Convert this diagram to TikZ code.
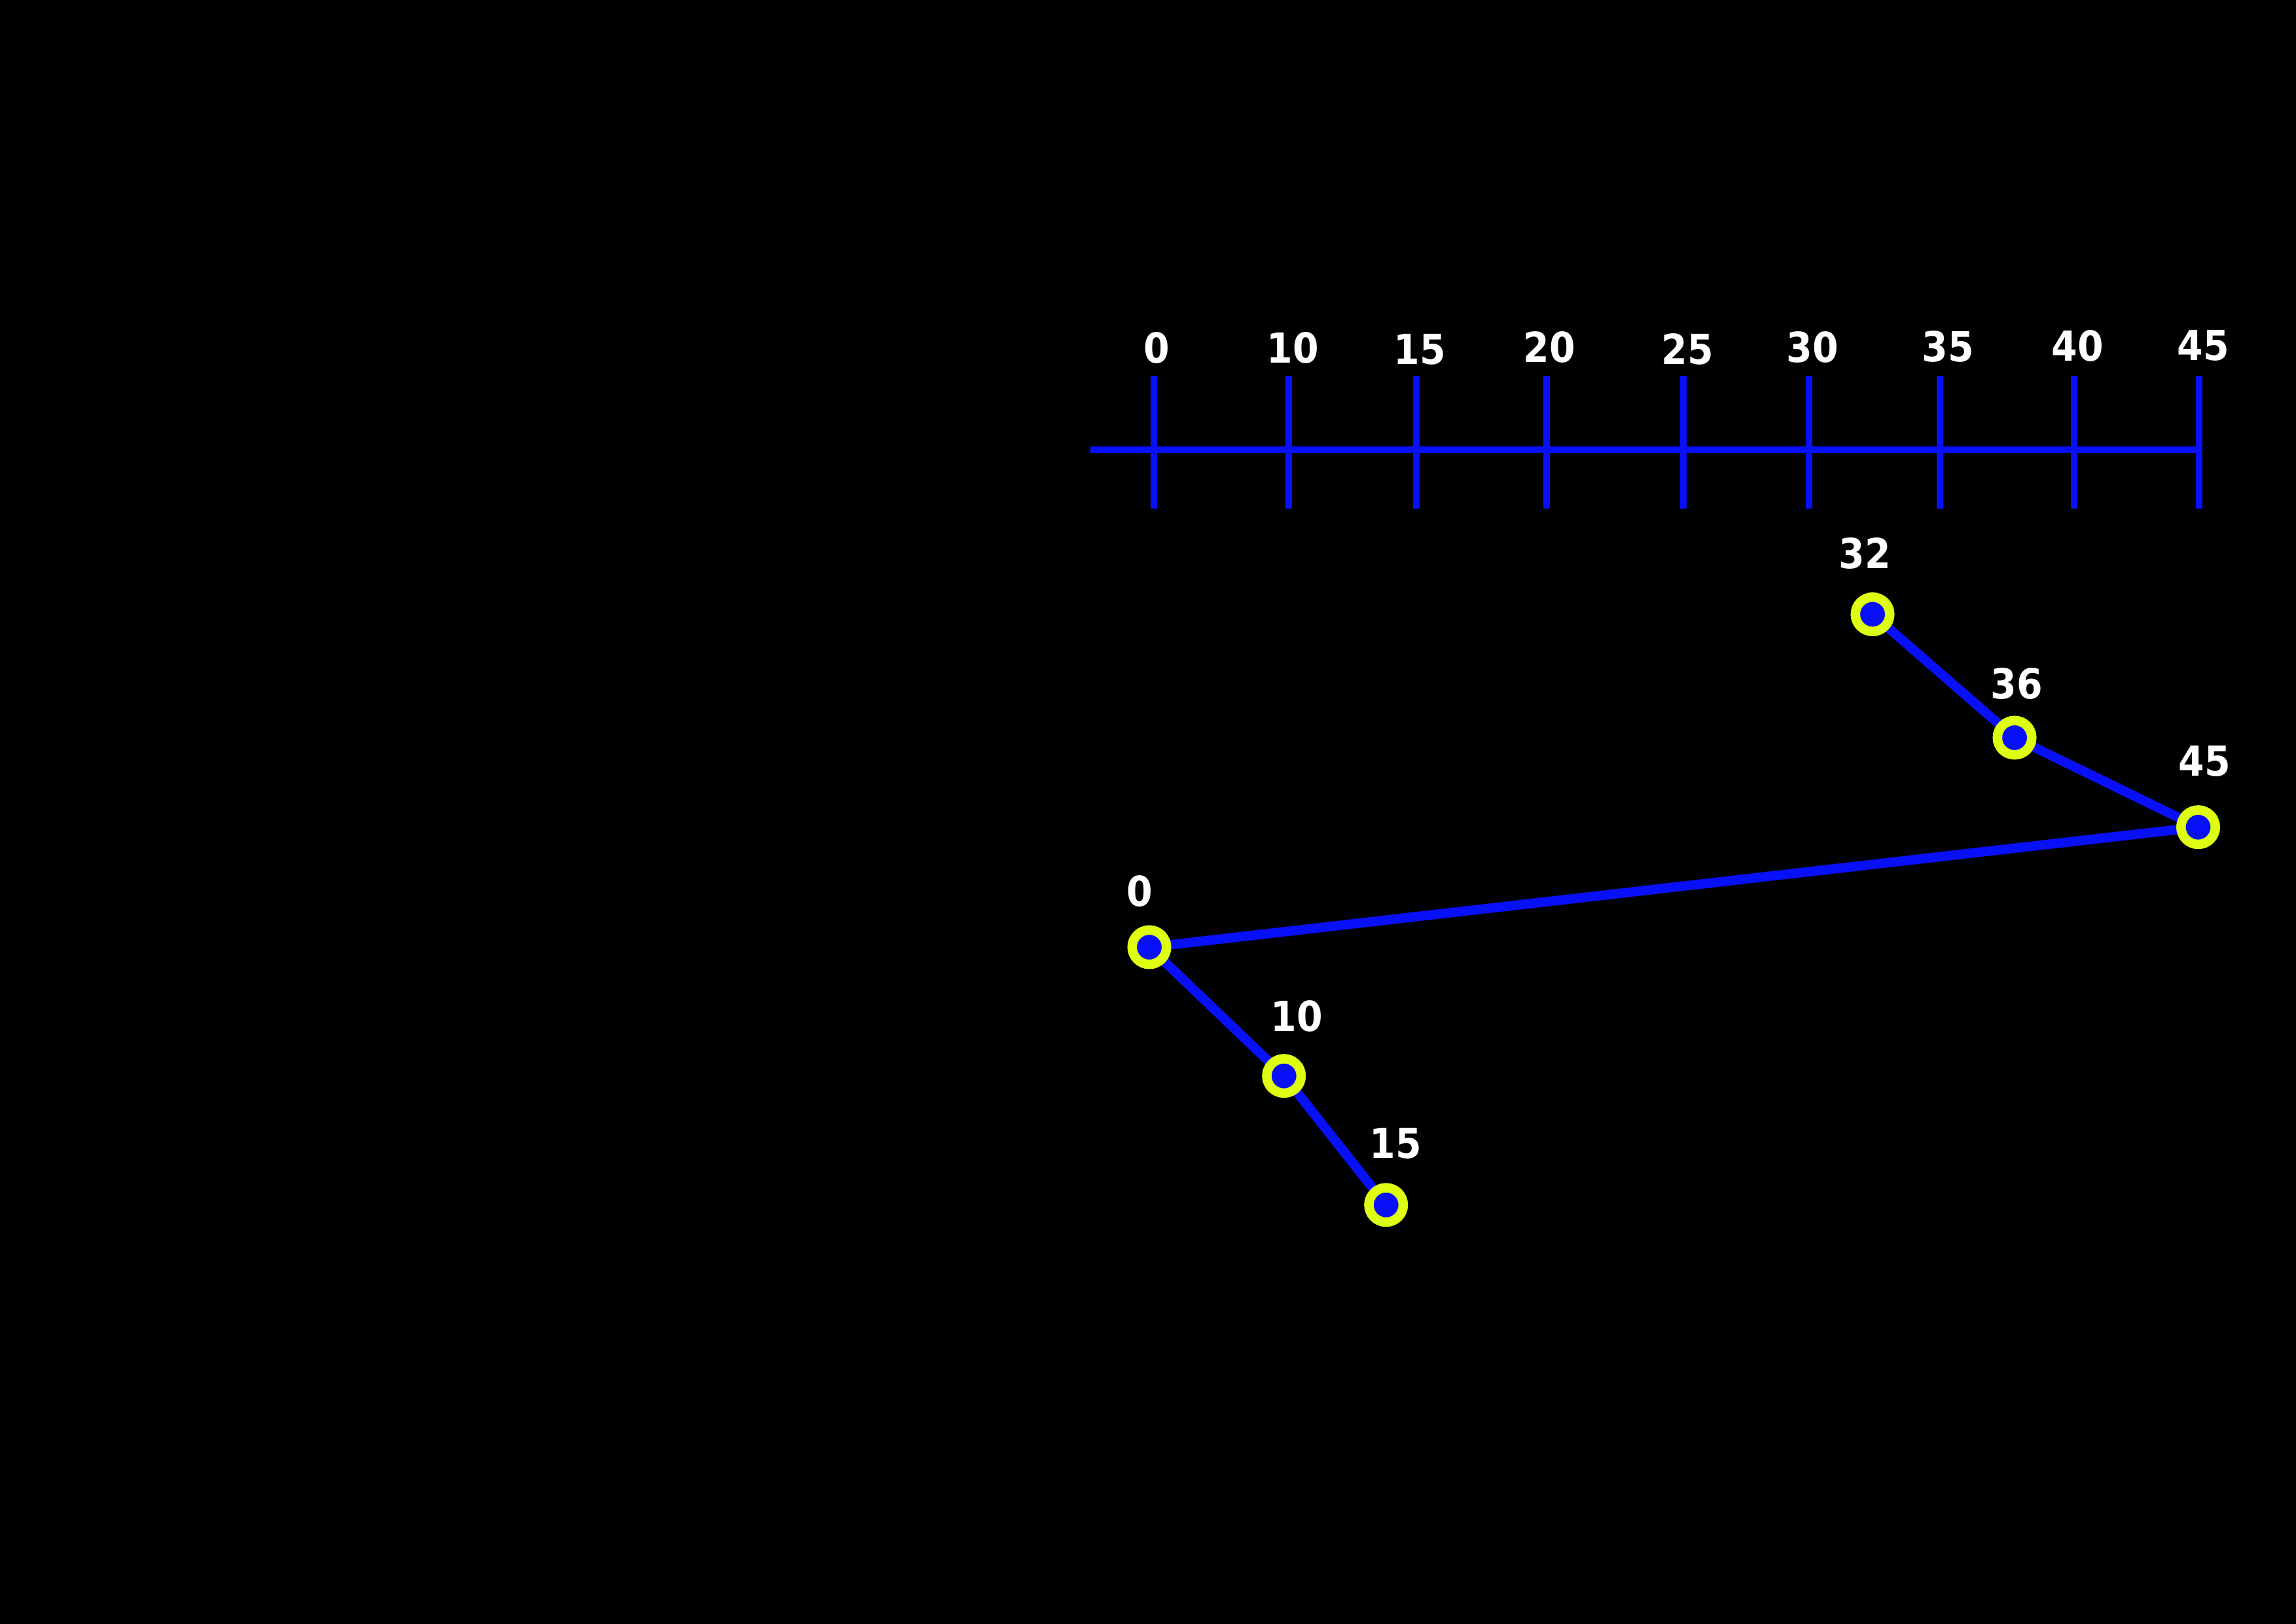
\documentclass[tikz,border=0pt]{standalone}
\usepackage{fontspec}
\setmainfont{DejaVu Sans Condensed}
\definecolor{lineblue}{RGB}{8,16,250}
\definecolor{ringyellow}{RGB}{222,255,18}

\begin{document}
\begin{tikzpicture}[
	axis/.style={lineblue,line width=0.1cm},
	tick/.style={lineblue,line width=0.1cm},
	edge/.style={lineblue,line width=0.145cm},
	dot/.style={circle,draw=ringyellow,fill=lineblue,line width=0.145cm,minimum size=0.525cm,inner sep=0pt},
	num/.style={white,font=\fontsize{18}{20}\selectfont\bfseries,anchor=base,inner sep=0pt}
]
\useasboundingbox (0,0) rectangle (35.08,24.80);
\fill[black] (-0.2,-0.2) rectangle (35.28,25.00);

% scale
\coordinate (s0) at (16.66,17.933);
\coordinate (s1) at (33.60,17.933);
\draw[axis] (s0) -- (s1);
\foreach \x/\v/\lx/\ly in {17.625/0/17.67/19.25, 19.69/10/19.75/19.25, 21.64/15/21.69/19.23,
	23.63/20/23.67/19.26, 25.72/25/25.78/19.23, 27.64/30/27.69/19.26,
	29.64/35/29.76/19.27, 31.69/40/31.74/19.28, 33.60/45/33.66/19.29}{
	\coordinate (t\v a) at (\x,19.06);
	\coordinate (t\v b) at (\x,17.03);
	\draw[tick] (t\v a) -- (t\v b);
	\node[num] (l\v) at (\lx,\ly) {\v};
}

% points
\coordinate (p0) at (17.56,10.33);
\coordinate (p10) at (19.617,8.363);
\coordinate (p15) at (21.177,6.392);
\coordinate (p32) at (28.61,15.415);
\coordinate (p36) at (30.78,13.53);
\coordinate (p45) at (33.585,12.163);

\draw[edge] (p15) -- (p10) -- (p0) -- (p45) -- (p36) -- (p32);

\foreach \p in {0,10,15,32,36,45}{
	\node[dot] (d\p) at (p\p) {};
}

\node[num] (n0) at (17.41,10.95) {0};
\node[num] (n10) at (19.81,9.04) {10};
\node[num] (n15) at (21.32,7.10) {15};
\node[num] (n32) at (28.49,16.11) {32};
\node[num] (n36) at (30.81,14.12) {36};
\node[num] (n45) at (33.68,12.94) {45};
\end{tikzpicture}
\end{document}
